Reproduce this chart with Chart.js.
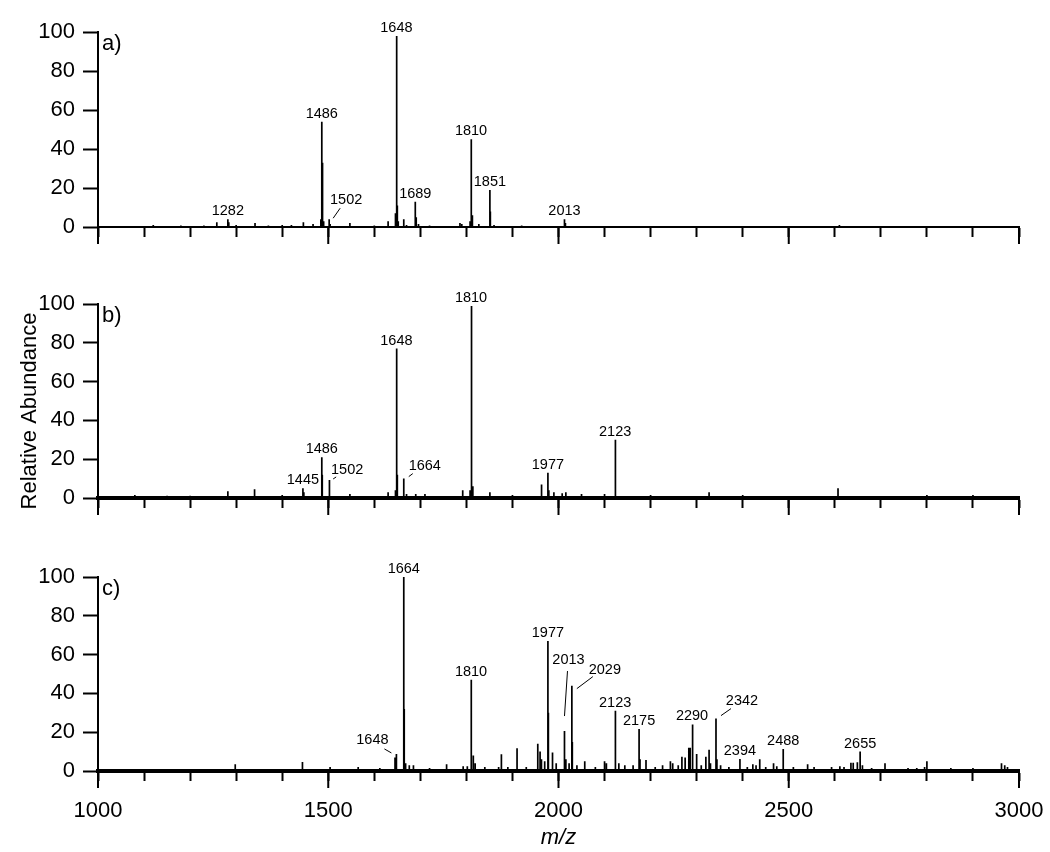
<!DOCTYPE html>
<html>
<head>
<meta charset="utf-8">
<script src="https://cdn.jsdelivr.net/npm/chart.js@4.4.1/dist/chart.umd.min.js"></script>
<style>
  body { margin: 0; background: #fff; width: 1050px; height: 852px; overflow: hidden; position: relative; }
  canvas { position: absolute; left: 0; }
</style>
</head>
<body>
<canvas id="specA" width="1050" height="251" style="top:0px"></canvas>
<canvas id="specB" width="1050" height="262" style="top:260px"></canvas>
<canvas id="specC" width="1050" height="322" style="top:530px"></canvas>
<script>
var FONT = '"Liberation Sans", Arial, sans-serif';
Chart.defaults.font.family = FONT;
Chart.defaults.color = '#000';

// x range (m/z) and axis ticks
var X_MIN = 1000, X_MAX = 3000;
var xMajor = [1000, 1500, 2000, 2500, 3000];

// a) peaks: m/z and relative abundance
var mzA  = [1120, 1180, 1230, 1258, 1282, 1284, 1300, 1341, 1370, 1400, 1420, 1446, 1467, 1484, 1486, 1487, 1488, 1490,
            1502, 1504, 1547, 1600, 1630, 1646, 1648, 1649, 1650, 1652, 1664, 1670, 1689, 1691, 1696, 1720, 1786, 1790,
            1808, 1810, 1811, 1813, 1827, 1851, 1852, 1860, 1920, 2013, 2015, 2100, 2610, 2700];
var intA = [1, 0.8, 0.8, 2.5, 4, 2.5, 1, 2, 0.8, 1, 1, 2.5, 1.5, 4, 54, 33, 14, 3,
            4, 1.5, 2, 0.8, 3, 7, 98, 68, 11, 3, 4, 1, 13, 5, 1.5, 0.8, 2, 1.5,
            3, 45, 35, 6, 1.5, 19, 8, 1, 0.8, 4, 2, 0.5, 1, 0.5];
var labelsA  = [1282, 1486, 1648, 1689, 1810, 1851, 2013];
var leadersA = [1502];

// b) peaks
var mzB  = [1080, 1150, 1200, 1282, 1340, 1400, 1445, 1447, 1486, 1487, 1502, 1503, 1547, 1630, 1646, 1648, 1649, 1650,
            1664, 1670, 1690, 1710, 1792, 1808, 1810, 1811, 1812, 1814, 1851, 1900, 1962, 1964, 1977, 1979, 1990, 2008,
            2016, 2050, 2100, 2123, 2124, 2200, 2327, 2400, 2607, 2800, 2900];
var intB = [1.5, 1.2, 1.2, 3.5, 4.5, 1.5, 5, 3, 21, 12, 9.3, 6, 2, 3, 4, 77, 58, 12,
            10, 2, 2, 2, 4, 4, 99, 78, 39, 6, 3, 1.5, 7, 5, 13, 4, 3, 2.5,
            3, 2, 2, 30, 16, 1.5, 3, 1.5, 5, 1.5, 1.5];
var labelsB  = [1445, 1486, 1648, 1810, 1977, 2123];
var leadersB = [1502, 1664];

// c) peaks
var mzC  = [1050, 1130, 1298, 1390, 1444, 1504, 1565, 1612, 1645, 1648, 1664, 1665, 1668, 1676, 1685, 1720, 1757, 1793,
            1802, 1810, 1811, 1815, 1819, 1840, 1870, 1876, 1890, 1910, 1930, 1955, 1960, 1963, 1970, 1977, 1978, 1987,
            1995, 2013, 2016, 2023, 2029, 2030, 2040, 2057, 2080, 2100, 2104, 2123, 2124, 2131, 2144, 2162, 2175, 2177,
            2190, 2210, 2226, 2243, 2248, 2260, 2268, 2275, 2283, 2286, 2290, 2292, 2300, 2310, 2320, 2327, 2330, 2342,
            2344, 2352, 2370, 2394, 2410, 2422, 2429, 2437, 2450, 2467, 2474, 2488, 2510, 2541, 2555, 2593, 2611, 2620,
            2635, 2640, 2649, 2655, 2660, 2680, 2709, 2759, 2778, 2795, 2800, 2852, 2900, 2962, 2969, 2975];
var intC = [1, 1, 3.5, 1, 4.7, 2, 2, 1.5, 7, 8.8, 100, 32, 4, 3, 3, 1.5, 3.5, 2.5,
            2.5, 47, 31, 8, 4, 2, 2, 8.6, 2, 11.7, 2, 14, 10, 6, 5, 67, 30, 9.5,
            4, 20.6, 6, 4, 44, 15, 3, 5, 2, 5, 4, 31, 14, 4, 3, 3, 21.6, 6,
            5.7, 2, 3, 5, 4, 3, 7.4, 7, 12, 12, 24, 10, 8.8, 3, 7.4, 11, 4, 27,
            6, 3, 2, 6.2, 2, 3.5, 3, 6, 2, 4, 2.5, 11.3, 2, 3.5, 2, 2, 2.5, 2,
            4.3, 4.3, 4.5, 10, 3, 1.5, 4, 1.5, 1.5, 2, 5, 1.5, 1.5, 4, 3, 2];
var labelsC  = [1664, 1810, 1977, 2123, 2175, 2290, 2394, 2488, 2655];
var leadersC = [1648, 2013, 2029, 2342];

// where the leader-line labels sit, in pixels from the peak top
var leaderPos = {
    A: { 1502: { t: [17, -15], l: [4, -1, 11, -11] } },
    B: { 1502: { t: [18, -6], l: [4, -1, 7, -3] },
         1664: { t: [21, -9], l: [5, -2, 9, -5] } },
    C: { 1648: { t: [-24, -10], l: [-12, -5, -5, -1] },
         2013: { t: [4, -67], l: [0, -15, 3, -60] },
         2029: { t: [33, -12], l: [5, 3, 21, -9] },
         2342: { t: [26, -14], l: [5, -3, 15, -10] } }
};

// turn a peak list into sticks for a line dataset
function sticks(mz, ab) {
    var idx = mz.map(function (m, i) { return i; }).sort(function (a, b) { return mz[a] - mz[b]; });
    var pts = [{ x: X_MIN, y: 0 }];
    idx.forEach(function (i) {
        pts.push({ x: mz[i], y: 0 }, { x: mz[i], y: ab[i] }, { x: mz[i], y: 0 });
    });
    pts.push({ x: X_MAX, y: 0 });
    return pts;
}

function makePlugin(cfg) {
    return {
        id: 'peakLabels',
        afterDatasetsDraw: function (chart) {
            var ctx = chart.ctx, xs = chart.scales.x, ys = chart.scales.y, area = chart.chartArea;
            function peakTop(m) {
                var i = cfg.mz.indexOf(m);
                return { x: xs.getPixelForValue(m), y: ys.getPixelForValue(cfg.ab[i]) };
            }
            ctx.save();
            ctx.fillStyle = '#000';
            ctx.strokeStyle = '#000';
            ctx.font = '14.5px ' + FONT;
            ctx.textAlign = 'center';
            ctx.textBaseline = 'alphabetic';
            cfg.labels.forEach(function (m) {
                var p = peakTop(m);
                ctx.fillText(String(m), p.x, p.y - 4);
            });
            cfg.leaders.forEach(function (m) {
                var p = peakTop(m), s = cfg.pos[m];
                ctx.fillText(String(m), p.x + s.t[0], p.y + s.t[1]);
                ctx.lineWidth = 1;
                ctx.beginPath();
                ctx.moveTo(p.x + s.l[0], p.y + s.l[1]);
                ctx.lineTo(p.x + s.l[2], p.y + s.l[3]);
                ctx.stroke();
            });
            // panel letter
            ctx.font = '22px ' + FONT;
            ctx.textAlign = 'left';
            ctx.fillText(cfg.tag, area.left + 4, area.top + 18);
            // y title, only on the middle panel
            if (cfg.yTitle) {
                ctx.translate(30, (area.top + area.bottom) / 2 + 10);
                ctx.rotate(-Math.PI / 2);
                ctx.textAlign = 'center';
                ctx.textBaseline = 'middle';
                ctx.fillText(cfg.yTitle, 0, 0);
            }
            ctx.restore();
        },
        afterDraw: function (chart) {
            // longer ticks every 500
            var ctx = chart.ctx, xs = chart.scales.x, b = chart.chartArea.bottom;
            ctx.save();
            ctx.strokeStyle = '#000';
            ctx.lineWidth = 2;
            xMajor.forEach(function (v) {
                var x = xs.getPixelForValue(v);
                ctx.beginPath();
                ctx.moveTo(x, b);
                ctx.lineTo(x, b + 17);
                ctx.stroke();
            });
            ctx.restore();
        }
    };
}

function makePanel(id, cfg) {
    var ctx = document.getElementById(id);
    return new Chart(ctx, {
        type: 'scatter',
        data: {
            datasets: [{
                data: sticks(cfg.mz, cfg.ab),
                showLine: true,
                borderColor: '#000',
                borderWidth: 1.7,
                pointRadius: 0,
                tension: 0
            }]
        },
        options: {
            responsive: false,
            animation: false,
            events: [],
            layout: { padding: { top: cfg.padTop, left: 0, right: 31, bottom: 0 } },
            plugins: { legend: { display: false }, tooltip: { enabled: false } },
            scales: {
                x: {
                    type: 'linear', min: X_MIN, max: X_MAX,
                    afterFit: function (s) {
                        s.height = cfg.xHeight;
                        s.paddingLeft = 0;
                        s.paddingRight = 0;
                    },
                    ticks: {
                        stepSize: 100, autoSkip: false, maxRotation: 0, padding: 17,
                        font: { size: 22 },
                        callback: function (v) { return cfg.showX && v % 500 === 0 ? String(v) : ''; }
                    },
                    grid: { drawOnChartArea: false, tickLength: 10, tickWidth: 2, tickColor: '#000' },
                    border: { color: '#000', width: cfg.baseW },
                    title: {
                        display: cfg.showX, text: 'm/z',
                        font: { size: 22, style: 'italic' }, padding: { top: 0, bottom: 1 }
                    }
                },
                y: {
                    min: 0, max: 100,
                    afterFit: function (s) { s.width = 98; },
                    ticks: { stepSize: 20, padding: 8, font: { size: 22 } },
                    grid: { drawOnChartArea: false, tickLength: 15, tickWidth: 2, tickColor: '#000' },
                    border: { color: '#000', width: 2 }
                }
            }
        },
        plugins: [makePlugin(cfg)]
    });
}

makePanel('specA', { mz: mzA, ab: intA, labels: labelsA, leaders: leadersA, pos: leaderPos.A,
    tag: 'a)', padTop: 32, xHeight: 24, showX: false, baseW: 2 });
makePanel('specB', { mz: mzB, ab: intB, labels: labelsB, leaders: leadersB, pos: leaderPos.B,
    tag: 'b)', padTop: 44, xHeight: 24, showX: false, baseW: 4, yTitle: 'Relative Abundance' });
makePanel('specC', { mz: mzC, ab: intC, labels: labelsC, leaders: leadersC, pos: leaderPos.C,
    tag: 'c)', padTop: 47, xHeight: 81, showX: true, baseW: 4 });
</script>
</body>
</html>
